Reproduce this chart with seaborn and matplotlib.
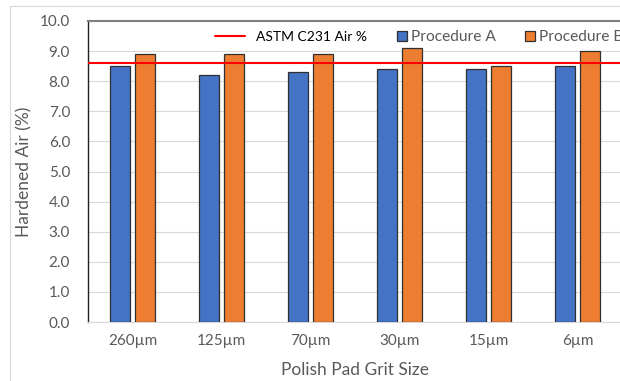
import matplotlib
matplotlib.use("Agg")
import matplotlib.pyplot as plt
import seaborn as sns
import pandas as pd
from matplotlib.lines import Line2D
from matplotlib.patches import Patch, Rectangle
from matplotlib.legend_handler import HandlerBase

categories = ["260µm", "125µm", "70µm", "30µm", "15µm", "6µm"]
procedure_a = [8.5, 8.2, 8.3, 8.4, 8.4, 8.5]
procedure_b = [8.9, 8.9, 8.9, 9.1, 8.5, 9.0]
astm_c231 = 8.6
series_names = ["Procedure A", "Procedure B"]
line_name = "ASTM C231 Air %"
colors = ["#4472C4", "#ED7D31"]

df = pd.DataFrame({
    "Grit": categories * 2,
    "Air": procedure_a + procedure_b,
    "Series": [series_names[0]] * len(categories) + [series_names[1]] * len(categories),
})

sns.set_theme(style="white")
plt.rcParams["font.family"] = ["Lato", "DejaVu Sans"]

PX = 72 / 100  # points per pixel

fig = plt.figure(figsize=(6.2, 3.81), dpi=100)
ax = fig.add_axes([88 / 620, 1 - 322 / 381, (622 - 88) / 620, (322 - 21) / 381])

fig.patches.append(Rectangle((10 / 620, -0.1), 1.2, 1 - 6 / 381 + 0.1, transform=fig.transFigure,
                             fill=False, edgecolor="#d9d9d9", linewidth=0.8))

sns.barplot(data=df, x="Grit", y="Air", hue="Series", palette=colors, saturation=1,
            width=0.56, gap=0.2, edgecolor="#303030", linewidth=0.9, ax=ax, legend=False, zorder=3)

ax.axhline(astm_c231, color="#FF0000", linewidth=1.5, zorder=4)

ax.set_ylim(0, 10)
ax.set_xlim(-0.5, len(categories) - 0.5)
ax.set_yticks(list(range(11)))
ax.set_yticklabels([f"{i:.1f}" for i in range(11)])
ax.yaxis.grid(True, color="#d9d9d9", linewidth=0.8, zorder=0)
ax.set_axisbelow(True)
ax.tick_params(axis="both", length=0, labelsize=11, colors="#595959")
ax.tick_params(axis="y", pad=18 * PX)
ax.tick_params(axis="x", pad=12 * PX)
ax.set_ylabel("Hardened Air (%)", fontsize=12.5, color="#595959", labelpad=5)
ax.set_xlabel("Polish Pad Grit Size", fontsize=12.5, color="#595959", labelpad=10)

ax.spines["left"].set_color("#202020")
ax.spines["left"].set_linewidth(1.0)
ax.spines["top"].set_color("#808080")
ax.spines["top"].set_linewidth(1.5)
ax.spines["bottom"].set_color("#d9d9d9")
ax.spines["bottom"].set_linewidth(0.8)
ax.spines["right"].set_visible(False)


class LineHandler(HandlerBase):
    def create_artists(self, legend, orig_handle, xdescent, ydescent, width, height, fontsize, trans):
        y = height / 2 - ydescent
        ln = Line2D([-xdescent, -xdescent + width - 7 * PX], [y, y],
                    color=orig_handle.get_color(), linewidth=orig_handle.get_linewidth())
        ln.set_transform(trans)
        return [ln]


class SquareHandler(HandlerBase):
    def create_artists(self, legend, orig_handle, xdescent, ydescent, width, height, fontsize, trans):
        side = 10 * PX
        r = Rectangle((-xdescent + width - side, -ydescent + (height - side) / 2), side, side,
                      facecolor=orig_handle.get_facecolor(), edgecolor=orig_handle.get_edgecolor(),
                      linewidth=orig_handle.get_linewidth())
        r.set_transform(trans)
        return [r]


leg_fs = 10
line_h = Line2D([0], [0], color="#FF0000", linewidth=1.5)
pa = Patch(facecolor=colors[0], edgecolor="#303030", linewidth=0.9)
pb = Patch(facecolor=colors[1], edgecolor="#303030", linewidth=0.9)
leg = ax.legend([line_h, pa, pb], [line_name] + series_names, ncol=3,
                loc="center left", bbox_to_anchor=((215 - 88) / 534, (322 - 37) / 301),
                frameon=False, fontsize=leg_fs, handlelength=37 * PX / leg_fs,
                handletextpad=4 * PX / leg_fs, columnspacing=0.2, borderaxespad=0, borderpad=0,
                handler_map={Line2D: LineHandler(), Patch: SquareHandler()})
texts = leg.get_texts()
texts[0].set_color("#000000")
for t in texts[1:]:
    t.set_color("#595959")
    t.set_fontsize(11.2)

fig.savefig("out.png", dpi=100)
